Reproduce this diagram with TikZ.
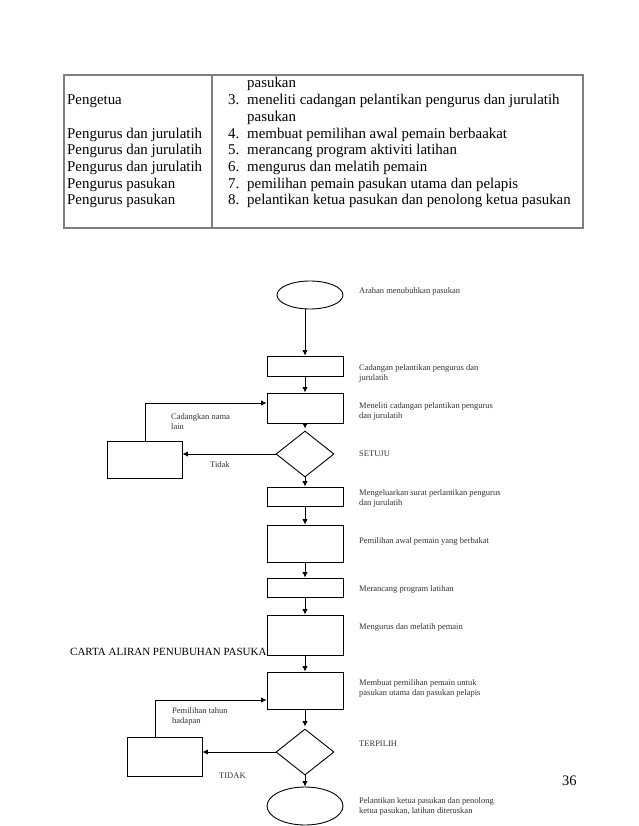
\documentclass[tikz,border=0pt]{standalone}
\usepackage{fontspec}
\setmainfont{Liberation Serif}
\usetikzlibrary{shapes.geometric,arrows.meta}
\tikzset{
  box/.style={draw, fill=white, rectangle, inner sep=0pt, minimum width=76pt, line width=0.9pt},
  ell/.style={draw, fill=white, ellipse, inner sep=0pt, line width=0.9pt},
  dia/.style={draw, fill=white, diamond, inner sep=0pt, minimum width=58pt, minimum height=46pt, line width=0.9pt},
  arr/.style={-{Latex[length=5.5pt,width=5.5pt]}, line width=0.9pt},
  lbl/.style={font=\fontsize{8.5}{10}\selectfont, align=left, anchor=west, inner sep=0pt, text=black!80},
  tbl/.style={font=\fontsize{14.9}{16.7}\selectfont, anchor=base west, inner sep=0pt},
  tborder/.style={draw=black!50, line width=1.2pt}
}
\begin{document}
\begin{tikzpicture}[x=1pt,y=-1pt]
\useasboundingbox[fill=white] (0,0) rectangle (638,826);
% table
\draw[tborder] (64,75) rectangle (583,228);
\draw[tborder] (212,75) -- (212,228);
\node[tbl] (t0) at (247,88) {pasukan};
\node[tbl] (l1) at (67,105) {Pengetua};
\node[tbl] (n3) at (228,105) {3.};
\node[tbl] (r3) at (247,105) {meneliti cadangan pelantikan pengurus dan jurulatih};
\node[tbl] (r3b) at (247,122) {pasukan};
\node[tbl] (l4) at (67,138.5) {Pengurus dan jurulatih};
\node[tbl] (n4) at (228,138.5) {4.};
\node[tbl] (r4) at (247,138.5) {membuat pemilihan awal pemain berbaakat};
\node[tbl] (l5) at (67,155) {Pengurus dan jurulatih};
\node[tbl] (n5) at (228,155) {5.};
\node[tbl] (r5) at (247,155) {merancang program aktiviti latihan};
\node[tbl] (l6) at (67,172) {Pengurus dan jurulatih};
\node[tbl] (n6) at (228,172) {6.};
\node[tbl] (r6) at (247,172) {mengurus dan melatih pemain};
\node[tbl] (l7) at (67,188.5) {Pengurus pasukan};
\node[tbl] (n7) at (228,188.5) {7.};
\node[tbl] (r7) at (247,188.5) {pemilihan pemain pasukan utama dan pelapis};
\node[tbl] (l8) at (67,205) {Pengurus pasukan};
\node[tbl] (n8) at (228,205) {8.};
\node[tbl] (r8) at (247,205) {pelantikan ketua pasukan dan penolong ketua pasukan};

% title (partly hidden by box)
\node[anchor=base west, inner sep=0pt, font=\fontsize{11}{12}\selectfont] (title) at (70,655) {CARTA ALIRAN PENUBUHAN PASUKAN};

% flowchart main column
\node[ell, minimum width=66pt, minimum height=28pt] (E1) at (310,295) {};
\node[box, minimum height=20pt] (B1) at (305,366) {};
\node[box, minimum height=30pt] (B2) at (305,408) {};
\node[dia] (D1) at (305,454) {};
\node[box, minimum height=19pt] (B3) at (305,496.5) {};
\node[box, minimum height=37pt] (B4) at (305,543.5) {};
\node[box, minimum height=19pt] (B5) at (305,587.5) {};
\node[box, minimum height=40pt] (B6) at (305,635) {};
\node[box, minimum height=37pt] (B7) at (305,690.5) {};
\node[dia] (D2) at (305,752) {};
\node[ell, minimum width=76pt, minimum height=38pt] (E2) at (305,806) {};

% left boxes
\node[box, minimum width=75pt, minimum height=37pt] (L1) at (144.5,459.5) {};
\node[box, minimum width=75pt, minimum height=39pt] (L2) at (164.5,756.5) {};

% main arrows
\draw[arr] (E1.south -| B1.north) -- (B1.north);
\draw[arr] (B1) -- (B2);
\draw[arr] (B2.south) -- ([yshift=2pt]D1.north);
\draw[arr] (D1.south) -- (B3.north);
\draw[arr] (B3) -- (B4);
\draw[arr] (B4) -- (B5);
\draw[arr] (B5) -- (B6);
\draw[arr] (B6) -- (B7);
\draw[arr] (B7.south) -- ([yshift=2pt]D2.north);
\draw[arr] (D2.south) -- (E2.north);

% branch 1
\coordinate (c1) at (145,403);
\draw[arr] (D1.west) -- (D1.west -| L1.east);
\draw[arr] (L1.north -| c1) -- (c1) -- (c1 -| B2.west);
% branch 2
\coordinate (c2) at (155,700);
\draw[arr] (D2.west) -- (D2.west -| L2.east);
\draw[arr] (L2.north -| c2) -- (c2) -- (c2 -| B7.west);

% labels right
\node[lbl] (a1) at (359,291) {Arahan menubuhkan pasukan};
\node[lbl] (a2) at (359,373) {Cadangan pelantikan pengurus dan\\jurulatih};
\node[lbl] (a3) at (359,411) {Meneliti cadangan pelantikan pengurus\\dan jurulatih};
\node[lbl] (a4) at (359,454) {SETUJU};
\node[lbl] (a5) at (359,498) {Mengeluarkan surat perlantikan pengurus\\dan jurulatih};
\node[lbl] (a6) at (359,541) {Pemilihan awal pemain yang berbakat};
\node[lbl] (a7) at (359,589) {Merancang program latihan};
\node[lbl] (a8) at (359,627) {Mengurus dan melatih pemain};
\node[lbl] (a9) at (359,688.5) {Membuat pemilihan pemain untuk\\pasukan utama dan pasukan pelapis};
\node[lbl] (a10) at (359,744) {TERPILIH};
\node[lbl] (a11) at (359,806.5) {Pelantikan ketua pasukan dan penolong\\ketua pasukan, latihan diteruskan};

% labels left
\node[lbl] (b1) at (171,421.5) {Cadangkan nama\\lain};
\node[lbl] (b2) at (210,465) {Tidak};
\node[lbl] (b3) at (172,716.5) {Pemilihan tahun\\hadapan};
\node[lbl] (b4) at (219,776) {TIDAK};

% page number
\node[anchor=west, inner sep=0pt, font=\fontsize{14.5}{16}\selectfont] (pg) at (562,781) {36};
\end{tikzpicture}
\end{document}
